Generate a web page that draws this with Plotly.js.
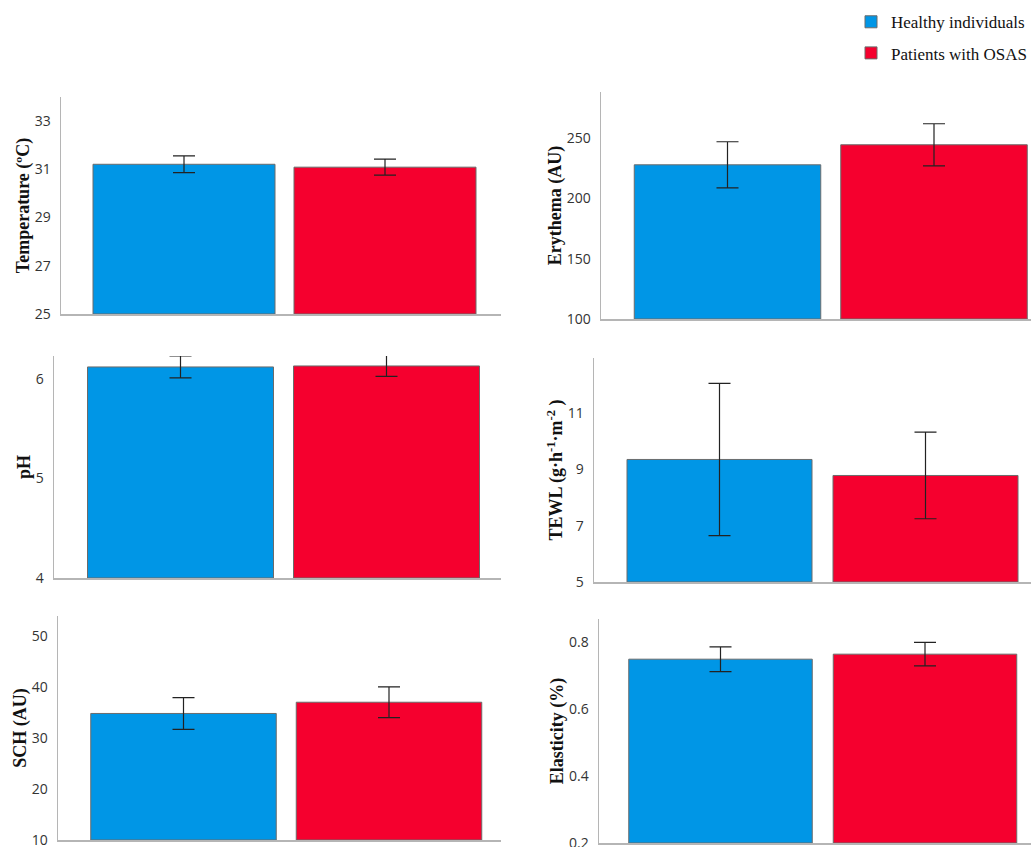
<!DOCTYPE html>
<html>
<head>
<meta charset="utf-8">
<script src="https://cdn.plot.ly/plotly-3.0.1.min.js"></script>
<style>html,body{margin:0;padding:0;background:#fff;}#chart{width:1033px;height:847px;}</style>
</head>
<body>
<div id="chart"></div>
<script>
// ---- data ----
const groups = ["Healthy individuals", "Patients with OSAS"];

const temperatureMean = [31.21, 31.09];
const temperatureErr  = [0.35, 0.33];

const erythemaMean = [227.7, 244.3];
const erythemaErr  = [19.1, 17.4];

const phMean = [6.12, 6.13];
const phErr  = [0.11, 0.105];

const tewlMean = [9.36, 8.79];
const tewlErr  = [2.71, 1.54];

const schMean = [34.8, 37.0];
const schErr  = [3.1, 3.0];

const elasticityMean = [0.749, 0.764];
const elasticityErr  = [0.037, 0.035];

const yTitles = ["Temperature (ºC)", "Erythema (AU)", "pH",
  "TEWL (g·h<sup>-1</sup>·m<sup>-2</sup> )", "SCH (AU)", "Elasticity (%)"];

// ---- layout config (pixel geometry) ----
const W = 1033, H = 847;
const panels = [
  {mean: temperatureMean, err: temperatureErr, title: yTitles[0], left: 61, right: 501, top: 97, bottom: 314, bl: 93, br: 275, rl: 294, rr: 476, yr: [25, 34.0], dtick: 2, fmt: ""},
  {mean: erythemaMean, err: erythemaErr, title: yTitles[1], left: 601, right: 1031, top: 92, bottom: 319, bl: 634, br: 821, rl: 841, rr: 1027, yr: [100, 288], dtick: 50, fmt: ""},
  {mean: phMean, err: phErr, title: yTitles[2], left: 54, right: 501, top: 356, bottom: 578, bl: 88, br: 273, rl: 293, rr: 480, yr: [4, 6.23], dtick: 1, fmt: ""},
  {mean: tewlMean, err: tewlErr, title: yTitles[3], left: 594, right: 1031, top: 358, bottom: 582, bl: 627, br: 812, rl: 833, rr: 1018, yr: [5, 12.97], dtick: 2, fmt: ""},
  {mean: schMean, err: schErr, title: yTitles[4], left: 58, right: 501, top: 616, bottom: 840, bl: 91, br: 276, rl: 296, rr: 482, yr: [10, 53.9], dtick: 10, fmt: ""},
  {mean: elasticityMean, err: elasticityErr, title: yTitles[5], left: 599, right: 1031, top: 619, bottom: 843, bl: 629, br: 812, rl: 833, rr: 1017, yr: [0.2, 0.869], dtick: 0.2, fmt: ".1f"}
];

const colors = ["#0096e6", "#f5002e"];
const traces = [];
const layout = {
  width: W, height: H,
  margin: {l: 0, r: 0, t: 0, b: 0},
  paper_bgcolor: "#fff", plot_bgcolor: "#fff",
  showlegend: true,
  barmode: "overlay",
  legend: {
    x: 1.0, y: 0.995, xanchor: "right", yanchor: "top",
    font: {family: "Liberation Serif", size: 17, color: "#111"},
    traceorder: "grouped", tracegroupgap: 6, bgcolor: "rgba(0,0,0,0)",
    itemwidth: 30
  }
};

panels.forEach((p, i) => {
  const n = i + 1;
  const xa = "x" + (n === 1 ? "" : n), ya = "y" + (n === 1 ? "" : n);
  const bc = (p.bl + p.br) / 2, rc = (p.rl + p.rr) / 2;
  const sp = rc - bc;
  const xr = [-(bc - p.left) / sp, 1 + (p.right - rc) / sp];
  const bw = ((p.br - p.bl) + (p.rr - p.rl)) / 2 / sp;
  groups.forEach((g, k) => {
    traces.push({
      type: "bar",
      x: [g], y: [p.mean[k] - p.yr[0]],
      base: p.yr[0],
      width: bw,
      name: g,
      legendgroup: g,
      showlegend: i === 0,
      xaxis: xa, yaxis: ya,
      marker: {color: colors[k], line: {color: "#6b6b6b", width: 1}},
      error_y: {type: "data", array: [p.err[k]], visible: true, color: "#222", thickness: 1.2, width: 11},
      hoverinfo: "skip"
    });
  });
  layout["xaxis" + (n === 1 ? "" : n)] = {
    domain: [p.left / W, p.right / W],
    anchor: ya,
    type: "category",
    categoryorder: "array", categoryarray: groups,
    range: xr,
    showticklabels: false, ticks: "",
    showgrid: false, zeroline: false,
    showline: true, linecolor: "#b5b5b5", linewidth: 1.5,
    fixedrange: true
  };
  layout["yaxis" + (n === 1 ? "" : n)] = {
    domain: [1 - p.bottom / H, 1 - p.top / H],
    anchor: xa,
    range: p.yr,
    tick0: p.yr[0], dtick: p.dtick,
    tickformat: p.fmt,
    ticks: "", showgrid: false, zeroline: false,
    showline: true, linecolor: "#b5b5b5", linewidth: 1.5,
    ticklabelstandoff: 6,
    ticklabeloverflow: "allow",
    tickfont: {family: "Open Sans", size: 14, color: "#333"},
    title: {text: p.title, font: {family: "Liberation Serif", size: 18, color: "#111", weight: "bold"}, standoff: 0},
    automargin: false,
    fixedrange: true
  };
});

Plotly.newPlot("chart", traces, layout, {displayModeBar: false, staticPlot: true});
</script>
</body>
</html>
